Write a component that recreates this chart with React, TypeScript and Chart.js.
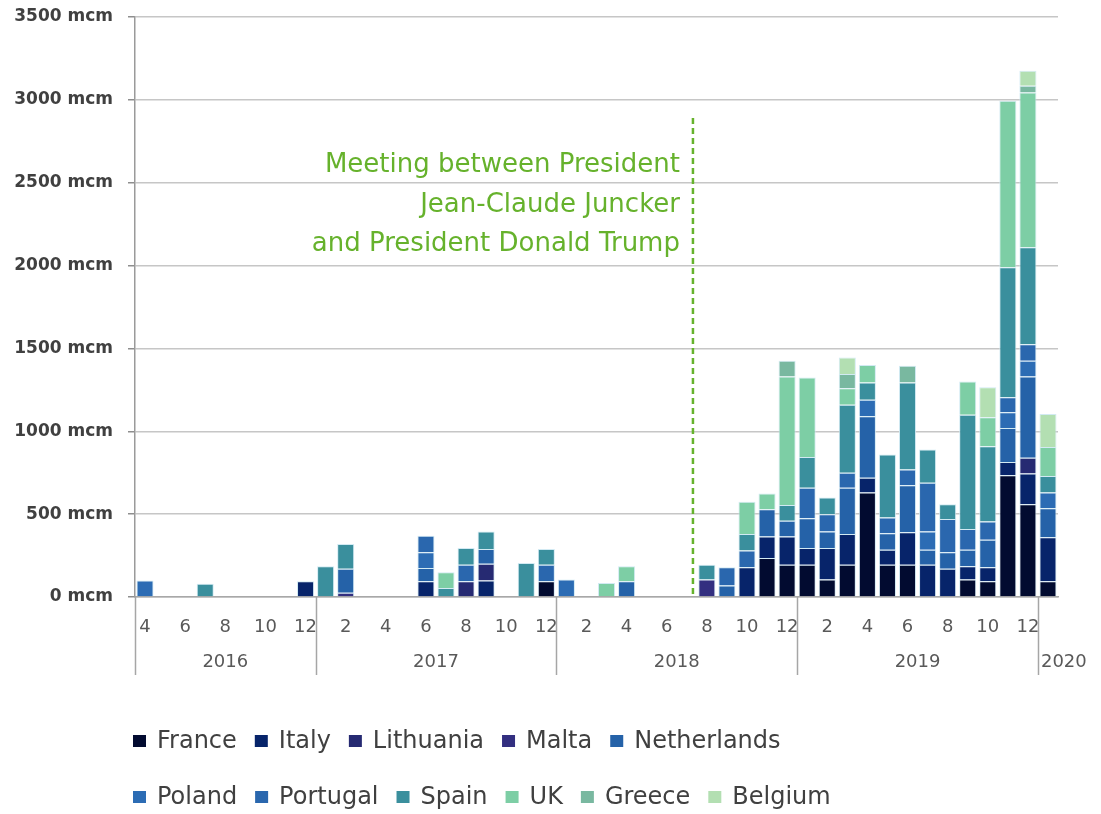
import React, { useEffect, useRef } from 'react';
import { Chart, registerables } from 'chart.js';
Chart.register(...registerables);

const _ = null;

// Months from April 2016 to January 2020
const categories = [
  '2016-04', '2016-05', '2016-06', '2016-07', '2016-08', '2016-09', '2016-10', '2016-11', '2016-12',
  '2017-01', '2017-02', '2017-03', '2017-04', '2017-05', '2017-06', '2017-07', '2017-08', '2017-09', '2017-10', '2017-11', '2017-12',
  '2018-01', '2018-02', '2018-03', '2018-04', '2018-05', '2018-06', '2018-07', '2018-08', '2018-09', '2018-10', '2018-11', '2018-12',
  '2019-01', '2019-02', '2019-03', '2019-04', '2019-05', '2019-06', '2019-07', '2019-08', '2019-09', '2019-10', '2019-11', '2019-12',
  '2020-01',
];

// LNG imports from the US (mcm), by importing country
const France = [_, _, _, _, _, _, _, _, _, _, _, _, _, _, _, _, _, _, _, _, 95, _, _, _, _, _, _, _, _, _, _, 235, 195, 195, 105, 195, 630, 195, 195, _, _, 105, 95, 735, 560, 95];
const Italy = [_, _, _, _, _, _, _, _, 95, _, _, _, _, _, 95, _, _, 100, _, _, _, _, _, _, _, _, _, _, _, _, 180, 130, 170, 100, 190, 185, 90, 90, 195, 195, 170, 80, 85, 80, 185, 265];
const Lithuania = [_, _, _, _, _, _, _, _, _, _, _, _, _, _, _, _, 95, 100, _, _, _, _, _, _, _, _, _, _, _, _, _, _, _, _, _, _, _, _, _, _, _, _, _, _, 95, _];
const Malta = [_, _, _, _, _, _, _, _, _, _, 25, _, _, _, _, _, _, _, _, _, _, _, _, _, _, _, _, _, 105, _, _, _, _, _, _, _, _, _, _, _, _, _, _, _, _, _];
const Netherlands = [_, _, _, _, _, _, _, _, _, _, 145, _, _, _, 80, _, _, 90, _, _, _, _, _, _, 95, _, _, _, _, 70, _, 165, 95, 180, 100, 280, 370, 100, 285, 90, 100, 100, 165, 205, 490, 175];
const Poland = [100, _, _, _, _, _, _, _, _, _, _, _, _, _, 95, _, _, _, _, _, _, 105, _, _, _, _, _, _, _, _, _, _, _, _, _, _, 100, _, _, 110, _, _, _, 95, 95, 95];
const Portugal = [_, _, _, _, _, _, _, _, _, _, _, _, _, _, 100, _, 100, _, _, _, 100, _, _, _, _, _, _, _, _, 110, 100, _, _, 185, 105, 90, _, 95, 95, 295, 200, 125, 110, 90, 100, _];
const Spain = [_, _, _, 80, _, _, _, _, _, 185, 150, _, _, _, _, 55, 100, 105, _, 205, 95, _, _, _, _, _, _, _, 90, _, 100, _, 95, 185, 100, 410, 105, 380, 525, 200, 90, 690, 455, 785, 585, 100];
const UK = [_, _, _, _, _, _, _, _, _, _, _, _, _, _, _, 95, _, _, _, _, _, _, _, 85, 90, _, _, _, _, _, 195, 95, 775, 480, _, 100, 105, _, _, _, _, 200, 175, 1005, 935, 175];
const Greece = [_, _, _, _, _, _, _, _, _, _, _, _, _, _, _, _, _, _, _, _, _, _, _, _, _, _, _, _, _, _, _, _, 95, _, _, 85, _, _, 100, _, _, _, _, _, 40, _];
const Belgium = [_, _, _, _, _, _, _, _, _, _, _, _, _, _, _, _, _, _, _, _, _, _, _, _, _, _, _, _, _, _, _, _, _, _, _, 100, _, _, _, _, _, _, 180, _, 90, 200];

const seriesNames = ['France', 'Italy', 'Lithuania', 'Malta', 'Netherlands', 'Poland', 'Portugal', 'Spain', 'UK', 'Greece', 'Belgium'];
const seriesValues = [France, Italy, Lithuania, Malta, Netherlands, Poland, Portugal, Spain, UK, Greece, Belgium];
const seriesColors = ['#020b30', '#07246a', '#262a72', '#332f80', '#2562a8', '#2c6cb4', '#2a67ae', '#3a8f9d', '#7dcea5', '#79b8a0', '#b3dfb2'];

const yTicks = [0, 500, 1000, 1500, 2000, 2500, 3000, 3500];
const yUnit = ' mcm';

const annotationLines = ['Meeting between President', 'Jean-Claude Juncker', 'and President Donald Trump'];
const meetingMonth = '2018-07';
const meetingDay = 25;
const meetingDaysInMonth = 31;

const FONT = "'DejaVu Sans', 'Liberation Sans', sans-serif";
const GREEN = '#66b22c';

const overlayPlugin = {
  id: 'overlay',
  afterDraw(chart: any) {
    const { ctx, chartArea, scales } = chart;
    const x = scales.x;
    const step = x.getPixelForValue(1) - x.getPixelForValue(0);
    const bottom = chartArea.bottom;

    // Year groups: dividers and labels
    const starts: number[] = [];
    categories.forEach((c, i) => {
      if (i === 0 || c.slice(5) === '01') starts.push(i);
    });
    ctx.save();
    ctx.strokeStyle = '#a6a6a6';
    ctx.lineWidth = 1.5;
    starts.forEach((s) => {
      const px = Math.round(x.getPixelForValue(s) - step / 2) + 0.5;
      ctx.beginPath();
      ctx.moveTo(px, bottom);
      ctx.lineTo(px, bottom + 78);
      ctx.stroke();
    });
    ctx.fillStyle = '#595959';
    ctx.font = `18px ${FONT}`;
    ctx.textBaseline = 'middle';
    starts.forEach((s, k) => {
      const e = k + 1 < starts.length ? starts[k + 1] : categories.length;
      const left = x.getPixelForValue(s) - step / 2;
      const right = x.getPixelForValue(e - 1) + step / 2;
      const year = categories[s].slice(0, 4);
      if (e - s < 3) {
        ctx.textAlign = 'left';
        ctx.fillText(year, left + 3, bottom + 65);
      } else {
        ctx.textAlign = 'center';
        ctx.fillText(year, (left + right) / 2, bottom + 65);
      }
    });

    // Meeting line
    const mi = categories.indexOf(meetingMonth);
    const lx = x.getPixelForValue(mi) - step / 2 + (step * meetingDay) / meetingDaysInMonth;
    ctx.strokeStyle = GREEN;
    ctx.lineWidth = 2.5;
    ctx.setLineDash([6, 4]);
    ctx.beginPath();
    ctx.moveTo(lx, chartArea.top + 101);
    ctx.lineTo(lx, bottom);
    ctx.stroke();
    ctx.setLineDash([]);

    ctx.fillStyle = GREEN;
    ctx.font = `26px ${FONT}`;
    ctx.textAlign = 'right';
    ctx.textBaseline = 'alphabetic';
    annotationLines.forEach((t, k) => {
      ctx.fillText(t, lx - 13, chartArea.top + 155 + k * 39.5);
    });

    // Legend (two rows)
    const rows = [seriesNames.slice(0, 5), seriesNames.slice(5)];
    const rowY = [bottom + 144, bottom + 200];
    ctx.font = `24px ${FONT}`;
    ctx.textAlign = 'left';
    ctx.textBaseline = 'middle';
    let idx = 0;
    rows.forEach((row, r) => {
      let cx = 133;
      row.forEach((name) => {
        ctx.fillStyle = seriesColors[idx];
        ctx.fillRect(cx, rowY[r] - 6, 13, 12);
        ctx.fillStyle = '#404040';
        ctx.fillText(name, cx + 24, rowY[r] + 1);
        cx += 24 + ctx.measureText(name).width + 18;
        idx++;
      });
    });
    ctx.restore();
  },
};

export default function App() {
  const ref = useRef<HTMLCanvasElement>(null);
  useEffect(() => {
    if (!ref.current) return;
    const chart = new Chart(ref.current, {
      type: 'bar',
      data: {
        labels: categories,
        datasets: seriesNames.map((name, i) => ({
          label: name,
          data: seriesValues[i],
          backgroundColor: seriesColors[i],
          borderColor: 'rgba(205,232,242,0.9)',
          borderWidth: 1,
          categoryPercentage: 1,
          barPercentage: 0.85,
        })),
      },
      options: {
        animation: false,
        responsive: false,
        layout: { padding: { top: 17, right: 43, left: 0, bottom: 0 } },
        plugins: {
          legend: { display: false },
          tooltip: { enabled: false },
        },
        scales: {
          x: {
            stacked: true,
            grid: { display: false },
            border: { color: '#a8a8a8', width: 1.5 },
            ticks: {
              autoSkip: false,
              maxRotation: 0,
              minRotation: 0,
              padding: 12,
              color: '#595959',
              font: { family: FONT, size: 18 },
              callback: (_v: any, i: number) => {
                const m = parseInt(categories[i].slice(5), 10);
                return m % 2 === 0 ? String(m) : '';
              },
            },
            afterFit: (s: any) => {
              s.height = 217;
              s.paddingLeft = 0;
              s.paddingRight = 0;
            },
          },
          y: {
            stacked: true,
            min: yTicks[0],
            max: yTicks[yTicks.length - 1],
            ticks: {
              stepSize: yTicks[1] - yTicks[0],
              padding: 15,
              color: '#404040',
              font: { family: FONT, size: 17, weight: 'bold' },
              callback: (v: any) => `${v}${yUnit}`,
            },
            grid: { color: '#c6c6c6', lineWidth: 1.5, tickLength: 7, tickColor: '#8e8e8e' },
            border: { color: '#9a9a9a', width: 1.5 },
            afterFit: (s: any) => {
              s.width = 135;
              s.paddingTop = 0;
              s.paddingBottom = 0;
            },
          },
        },
      },
      plugins: [overlayPlugin],
    } as any);
    return () => chart.destroy();
  }, []);
  return (
    <div style={{ position: 'fixed', left: 0, top: 0, width: 1101, height: 814, background: '#fff' }}>
      <canvas ref={ref} width={1101} height={814} style={{ width: 1101, height: 814 }} />
    </div>
  );
}
